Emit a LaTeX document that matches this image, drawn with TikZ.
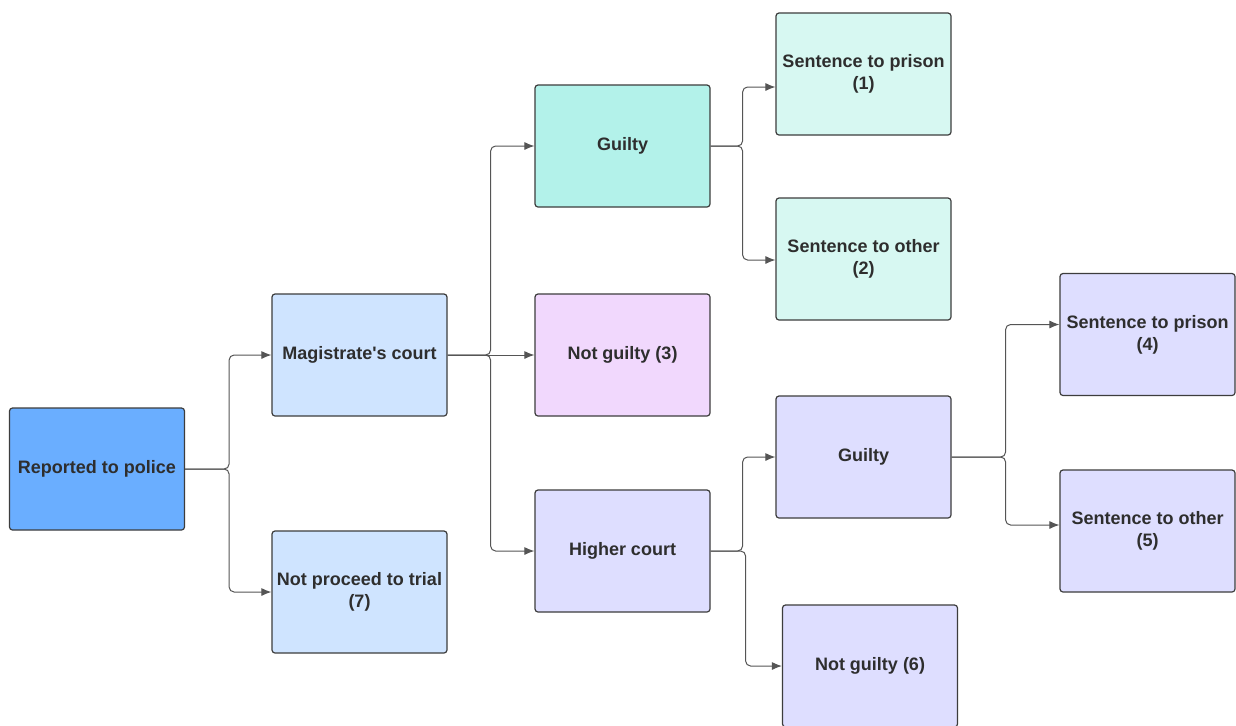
\documentclass[tikz,border=0pt]{standalone}
\usepackage{fontspec}
\setmainfont{Liberation Sans}[Ligatures=TeXOff]
\usetikzlibrary{arrows.meta}
\definecolor{cReport}{HTML}{6AAEFF}
\definecolor{cMag}{HTML}{CFE4FF}
\definecolor{cGuilty}{HTML}{B3F2EA}
\definecolor{cSent}{HTML}{D7F8F2}
\definecolor{cNG}{HTML}{F1D8FD}
\definecolor{cHigh}{HTML}{DEDEFF}
\definecolor{bordergray}{HTML}{3D3D3D}
\definecolor{textgray}{HTML}{2E2E2E}
\definecolor{linegray}{HTML}{555555}
\begin{document}
\begin{tikzpicture}[x=0.5pt,y=-0.5pt,
  box/.style={draw=bordergray, line width=0.6pt, rounded corners=1.5pt,
    minimum width=87.5pt, minimum height=61pt, inner sep=0pt, align=center,
    font=\fontsize{9}{11}\selectfont\bfseries, text=textgray},
  conn/.style={draw=linegray, line width=0.5pt, rounded corners=2.5pt,
    -{Latex[length=5pt,width=4pt]}}]
\fill[white] (0,0) rectangle (1236,725);
\useasboundingbox (0,0) rectangle (1236,725);
\begin{scope}
\clip (0,0) rectangle (1236,725);
\node[box, fill=cReport] (rep) at (97,469) {Reported to police};
\node[box, fill=cMag] (mag) at (359.5,355) {Magistrate's court};
\node[box, fill=cMag] (np) at (359.5,592) {Not proceed to trial\\(7)};
\node[box, fill=cGuilty] (g1) at (622.5,146) {Guilty};
\node[box, fill=cNG] (ng3) at (622.5,355) {Not guilty (3)};
\node[box, fill=cHigh] (hc) at (622.5,551) {Higher court};
\node[box, fill=cSent] (s1) at (863.5,74) {Sentence to prison\\(1)};
\node[box, fill=cSent] (s2) at (863.5,259) {Sentence to other\\(2)};
\node[box, fill=cHigh] (g2) at (863.5,457) {Guilty};
\node[box, fill=cHigh] (ng6) at (870,666) {Not guilty (6)};
\node[box, fill=cHigh] (s4) at (1147.5,334.5) {Sentence to prison\\(4)};
\node[box, fill=cHigh] (s5) at (1147.5,531) {Sentence to other\\(5)};

\draw[conn] (rep.east) -- ++(44,0) |- (mag.west);
\draw[conn] (rep.east) -- ++(44,0) |- (np.west);
\draw[conn] (mag.east) -- ++(43,0) |- (g1.west);
\draw[conn] (mag.east) -- (ng3.west);
\draw[conn] (mag.east) -- ++(43,0) |- (hc.west);
\draw[conn] (g1.east) -- ++(32,0) |- ([yshift=-6.5pt]s1.west);
\draw[conn] (g1.east) -- ++(32,0) |- ([yshift=-0.5pt]s2.west);
\draw[conn] (hc.east) -- ++(32,0) |- (g2.west);
\draw[conn] (hc.east) -- ++(35,0) |- (ng6.west);
\draw[conn] (g2.east) -- ++(54,0) |- ([yshift=5pt]s4.west);
\draw[conn] (g2.east) -- ++(54,0) |- ([yshift=3pt]s5.west);
\end{scope}
\end{tikzpicture}
\end{document}
